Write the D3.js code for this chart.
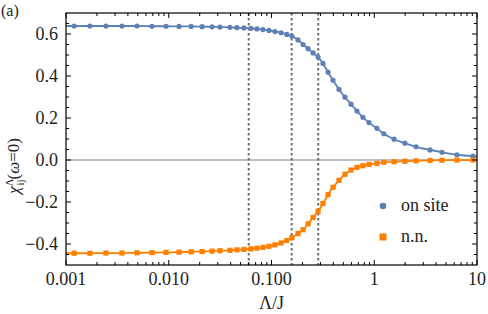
<!DOCTYPE html>
<html>
<head>
<meta charset="utf-8">
<title>Static susceptibility vs cutoff</title>
<style>
  body { margin: 0; background: #fff; }
</style>
</head>
<body>
<div id="chart"></div>
<script src="https://cdn.jsdelivr.net/npm/d3@7"></script>
<script>
// cutoff values Lambda/J of the plotted points
const lambdas = [0.00120, 0.00171, 0.00245, 0.00351, 0.00491, 0.00687, 0.00940, 0.0126, 0.0165, 0.0211,
  0.0264, 0.0315, 0.0394, 0.0461, 0.0539, 0.0631, 0.0722, 0.0826, 0.0946, 0.108,
  0.124, 0.141, 0.158, 0.181, 0.203, 0.227, 0.254, 0.284, 0.317, 0.355,
  0.397, 0.454, 0.519, 0.594, 0.679, 0.776, 0.889, 1.06, 1.24, 1.56,
  1.99, 2.55, 3.49, 4.56, 6.38, 9.14];

// on-site susceptibility
const onSite = [0.638, 0.638, 0.638, 0.638, 0.638, 0.637, 0.637, 0.636, 0.636, 0.635,
  0.634, 0.633, 0.632, 0.630, 0.629, 0.627, 0.624, 0.621, 0.617, 0.612,
  0.606, 0.598, 0.590, 0.572, 0.550, 0.530, 0.510, 0.490, 0.460, 0.418,
  0.380, 0.336, 0.299, 0.266, 0.233, 0.203, 0.178, 0.151, 0.125, 0.099,
  0.080, 0.063, 0.048, 0.037, 0.025, 0.018];

// nearest-neighbour susceptibility
const nearest = [-0.444, -0.444, -0.443, -0.443, -0.442, -0.441, -0.440, -0.439, -0.437, -0.436,
  -0.434, -0.432, -0.430, -0.428, -0.426, -0.423, -0.420, -0.416, -0.411, -0.404,
  -0.395, -0.383, -0.370, -0.350, -0.332, -0.304, -0.274, -0.244, -0.207, -0.165,
  -0.130, -0.097, -0.068, -0.048, -0.035, -0.027, -0.021, -0.016, -0.011, -0.008,
  -0.006, -0.004, -0.002, -0.001, -0.0005, 0.0];

// dashed reference cutoffs
const marks = [0.060, 0.157, 0.285];

const xTicks = [0.001, 0.01, 0.1, 1, 10];
const xTickLabels = ["0.001", "0.010", "0.100", "1", "10"];
const yTicks = [-0.4, -0.2, 0.0, 0.2, 0.4, 0.6];

const W = 488, H = 314;
const m = {left: 66, right: 11, top: 13, bottom: 49};
const serif = "'Liberation Serif', 'Times New Roman', Times, serif";

const svg = d3.select("#chart").append("svg")
    .attr("width", W).attr("height", H)
    .attr("font-family", serif);

const x = d3.scaleLog().domain([0.001, 10]).range([m.left, W - m.right]);
const y = d3.scaleLinear().domain([-0.5, 0.7]).range([H - m.bottom, m.top]);

svg.append("clipPath").attr("id", "plot")
  .append("rect")
    .attr("x", m.left).attr("y", m.top)
    .attr("width", W - m.left - m.right).attr("height", H - m.top - m.bottom);

// zero line
svg.append("line")
    .attr("x1", x(0.001)).attr("x2", x(10))
    .attr("y1", y(0)).attr("y2", y(0))
    .attr("stroke", "#808080").attr("stroke-width", 1);

// dashed vertical lines
svg.selectAll(".mark").data(marks).enter().append("line")
    .attr("x1", d => x(d)).attr("x2", d => x(d))
    .attr("y1", y(0.7)).attr("y2", y(-0.5))
    .attr("stroke", "#6e6e6e").attr("stroke-width", 2)
    .attr("stroke-dasharray", "2.5,2.5");

const blue = "#5e81b5", orange = "#ff8000";
const pts = lambdas.map((l, i) => ({l, a: onSite[i], b: nearest[i]}));

const g = svg.append("g").attr("clip-path", "url(#plot)");

const lineA = d3.line().x(d => x(d.l)).y(d => y(d.a)).curve(d3.curveMonotoneX);
const lineB = d3.line().x(d => x(d.l)).y(d => y(d.b)).curve(d3.curveMonotoneX);
const padA = [{l: 0.001, a: onSite[0]}].concat(pts, [{l: 10, a: 0.017}]);
const padB = [{l: 0.001, b: nearest[0]}].concat(pts, [{l: 10, b: 0.0}]);

g.append("path").datum(padA).attr("d", lineA)
    .attr("fill", "none").attr("stroke", blue).attr("stroke-width", 1.8);
g.append("path").datum(padB).attr("d", lineB)
    .attr("fill", "none").attr("stroke", orange).attr("stroke-width", 1.8);

g.selectAll(".ca").data(pts).enter().append("circle")
    .attr("cx", d => x(d.l)).attr("cy", d => y(d.a)).attr("r", 2.6)
    .attr("fill", blue);
g.selectAll(".sb").data(pts).enter().append("rect")
    .attr("x", d => x(d.l) - 2.6).attr("y", d => y(d.b) - 2.6)
    .attr("width", 5.2).attr("height", 5.2)
    .attr("fill", orange);

// frame
svg.append("rect")
    .attr("x", m.left).attr("y", m.top)
    .attr("width", W - m.left - m.right).attr("height", H - m.top - m.bottom)
    .attr("fill", "none").attr("stroke", "#000").attr("stroke-width", 1.2);

// ticks on all four sides, pointing inward
const minorX = [];
[0.001, 0.01, 0.1, 1].forEach(dec => {
  for (let k = 2; k <= 9; k++) minorX.push(dec * k);
});
const minorY = d3.range(-0.45, 0.7, 0.05).filter(v => Math.abs(Math.round(v * 5) - v * 5) > 1e-6);

const ticks = svg.append("g").attr("stroke", "#000").attr("stroke-width", 1);
[[xTicks, 5], [minorX, 3]].forEach(([vals, len]) => {
  vals.forEach(v => {
    ticks.append("line").attr("x1", x(v)).attr("x2", x(v))
      .attr("y1", y(-0.5)).attr("y2", y(-0.5) - len);
    ticks.append("line").attr("x1", x(v)).attr("x2", x(v))
      .attr("y1", y(0.7)).attr("y2", y(0.7) + len);
  });
});
[[yTicks, 5], [minorY, 3]].forEach(([vals, len]) => {
  vals.forEach(v => {
    ticks.append("line").attr("x1", x(0.001)).attr("x2", x(0.001) + len)
      .attr("y1", y(v)).attr("y2", y(v));
    ticks.append("line").attr("x1", x(10)).attr("x2", x(10) - len)
      .attr("y1", y(v)).attr("y2", y(v));
  });
});

// tick labels
svg.selectAll(".xl").data(xTicks).enter().append("text")
    .attr("x", d => x(d)).attr("y", y(-0.5) + 20)
    .attr("text-anchor", "middle").attr("font-size", 18).attr("fill", "#222")
    .text((d, i) => xTickLabels[i]);

svg.selectAll(".yl").data(yTicks).enter().append("text")
    .attr("x", x(0.001) - 8).attr("y", d => y(d) + 6)
    .attr("text-anchor", "end").attr("font-size", 18).attr("fill", "#222")
    .text(d => d3.format(".1f")(d).replace("-", "\u2212"));

// axis titles
svg.append("text")
    .attr("x", (x(0.001) + x(10)) / 2).attr("y", 309)
    .attr("text-anchor", "middle").attr("font-size", 18).attr("fill", "#222")
    .text("\u039B/J");

const yt = svg.append("text")
    .attr("transform", "translate(19,166) rotate(-90)")
    .attr("text-anchor", "middle").attr("font-size", 17).attr("fill", "#222");
yt.append("tspan").attr("font-style", "italic").text("\u03C7");
yt.append("tspan").attr("dy", -6).attr("font-size", 11).text("\u039B");
yt.append("tspan").attr("dx", -7).attr("dy", 11).attr("font-size", 11).text("ij");
yt.append("tspan").attr("dy", -5).text("(");
yt.append("tspan").attr("font-style", "italic").text("\u03C9");
yt.append("tspan").text("=0)");

svg.append("text").attr("x", 1).attr("y", 16)
    .attr("font-size", 16).attr("fill", "#222").text("(a)");

// legend
const lg = svg.append("g");
lg.append("circle").attr("cx", 383).attr("cy", 206).attr("r", 3.3).attr("fill", blue);
lg.append("rect").attr("x", 379.5).attr("y", 233.5).attr("width", 7).attr("height", 7).attr("fill", orange);
lg.append("text").attr("x", 401).attr("y", 211).attr("font-size", 18).attr("fill", "#222").text("on site");
lg.append("text").attr("x", 401).attr("y", 242).attr("font-size", 18).attr("fill", "#222").text("n.n.");
</script>
</body>
</html>
